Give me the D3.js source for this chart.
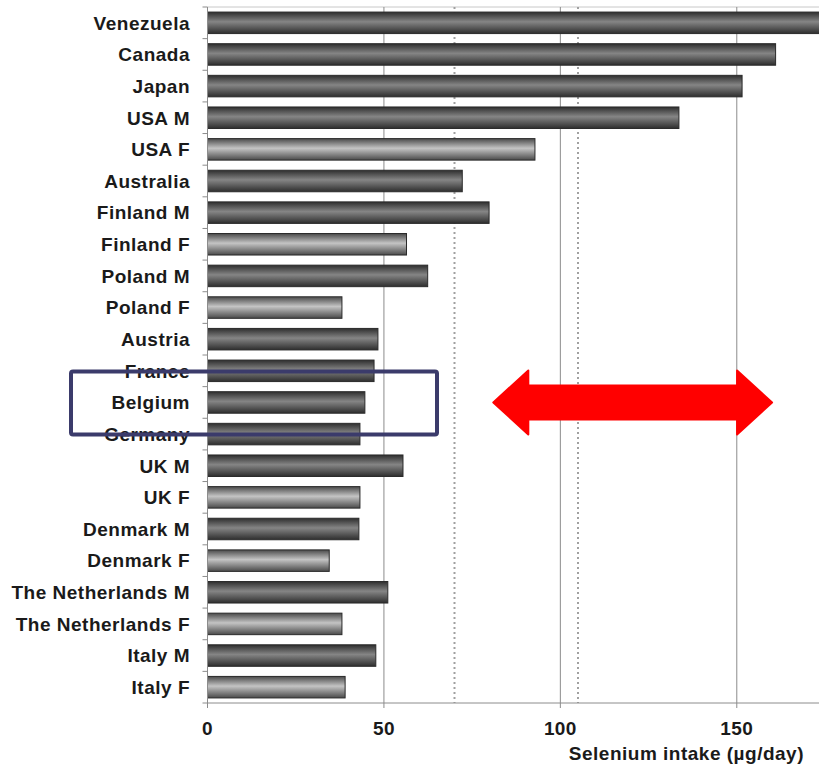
<!DOCTYPE html>
<html>
<head>
<meta charset="utf-8">
<script src="https://cdn.jsdelivr.net/npm/d3@7/dist/d3.min.js"></script>
<style>
  html, body { margin: 0; padding: 0; background: #fff; }
  svg { display: block; font-family: "Liberation Sans", Arial, sans-serif; }
</style>
</head>
<body>
<svg id="chart" width="819" height="766"></svg>
<script>
// Daily selenium intake by country (µg/day); M = men, F = women
const countries = ["Venezuela", "Canada", "Japan", "USA M", "USA F", "Australia",
  "Finland M", "Finland F", "Poland M", "Poland F", "Austria", "France", "Belgium",
  "Germany", "UK M", "UK F", "Denmark M", "Denmark F", "The Netherlands M",
  "The Netherlands F", "Italy M", "Italy F"];
const intake = [200, 161, 151.5, 133.6, 92.8, 72.2, 79.8, 56.4, 62.4, 38.1, 48.3,
  47.2, 44.6, 43.2, 55.4, 43.2, 42.9, 34.5, 51.1, 38.1, 47.7, 39];
const female = [false, false, false, false, true, false, false, true, false, true,
  false, false, false, false, false, true, false, true, false, true, false, true];
const xTicks = [0, 50, 100, 150];
const refLines = [70, 105];           // dotted reference intake levels
const arrowRange = [81, 160];         // highlighted intake range
const highlighted = "Belgium";
const axisTitle = "Selenium intake (µg/day)";

const rows = countries.map((c, i) => ({ name: c, value: intake[i], female: female[i] }));

const svg = d3.select("#chart");
const W = 819;
const plotLeft = 207.5, plotTop = 7, plotBottom = 703;

const x = d3.scaleLinear().domain([0, 173.3]).range([plotLeft, W]);
const y = d3.scaleBand().domain(countries).range([plotTop, plotBottom])
  .paddingInner(0.32).paddingOuter(0.16);

// Cylinder-style shading for the bars
const defs = svg.append("defs");
function grad(id, edge, mid) {
  const g = defs.append("linearGradient").attr("id", id)
    .attr("x1", 0).attr("y1", 0).attr("x2", 0).attr("y2", 1);
  g.append("stop").attr("offset", "0%").attr("stop-color", edge);
  g.append("stop").attr("offset", "45%").attr("stop-color", mid);
  g.append("stop").attr("offset", "100%").attr("stop-color", edge);
}
grad("gDark", "#2e2e2e", "#858585");
grad("gLight", "#4a4a4a", "#c4c4c4");

defs.append("clipPath").attr("id", "plotClip")
  .append("rect").attr("x", plotLeft).attr("y", 0).attr("width", W - plotLeft).attr("height", plotBottom + 1);

// Top border
svg.append("line").attr("x1", plotLeft).attr("x2", W).attr("y1", plotTop).attr("y2", plotTop)
  .attr("stroke", "#c8c8c8").attr("stroke-width", 1);

// Vertical gridlines
svg.append("g").selectAll("line").data(xTicks.slice(1)).join("line")
  .attr("x1", d => x(d)).attr("x2", d => x(d)).attr("y1", plotTop).attr("y2", plotBottom)
  .attr("stroke", "#8c8c8c").attr("stroke-width", 1);

svg.append("g").selectAll("line").data(refLines).join("line")
  .attr("x1", d => x(d)).attr("x2", d => x(d)).attr("y1", plotTop).attr("y2", plotBottom)
  .attr("stroke", "#a0a0a0").attr("stroke-width", 2).attr("stroke-dasharray", "2,3");

// Bars
svg.append("g").attr("clip-path", "url(#plotClip)")
  .selectAll("rect").data(rows).join("rect")
  .attr("x", x(0)).attr("y", d => y(d.name))
  .attr("width", d => x(d.value) - x(0)).attr("height", y.bandwidth())
  .attr("fill", d => d.female ? "url(#gLight)" : "url(#gDark)")
  .attr("stroke", "#2a2a2a").attr("stroke-width", 1);

// Category axis: ticks sit on the boundaries between rows
svg.append("line").attr("x1", plotLeft).attr("x2", plotLeft).attr("y1", plotTop).attr("y2", plotBottom + 4)
  .attr("stroke", "#8c8c8c");
const bounds = d3.range(countries.length + 1).map(i => plotTop + i * y.step());
svg.append("g").selectAll("line").data(bounds).join("line")
  .attr("x1", plotLeft - 5).attr("x2", plotLeft).attr("y1", d => d).attr("y2", d => d)
  .attr("stroke", "#8c8c8c");

svg.append("g").selectAll("text").data(rows).join("text")
  .attr("x", 190).attr("y", d => y(d.name) + y.bandwidth() / 2)
  .attr("dy", "0.36em").attr("text-anchor", "end")
  .attr("font-size", 19).attr("letter-spacing", 0.5)
  .attr("font-weight", "bold").attr("fill", "#1a1a1a")
  .text(d => d.name);

// Value axis
svg.append("line").attr("x1", plotLeft).attr("x2", W).attr("y1", plotBottom).attr("y2", plotBottom)
  .attr("stroke", "#8c8c8c");
svg.append("g").selectAll("line").data(xTicks).join("line")
  .attr("x1", d => x(d)).attr("x2", d => x(d)).attr("y1", plotBottom).attr("y2", plotBottom + 5)
  .attr("stroke", "#8c8c8c");
svg.append("g").selectAll("text").data(xTicks).join("text")
  .attr("x", d => x(d)).attr("y", 735).attr("text-anchor", "middle")
  .attr("font-size", 19).attr("letter-spacing", 0.4)
  .attr("font-weight", "bold").attr("fill", "#1a1a1a")
  .text(d => d);
svg.append("text").attr("x", 804).attr("y", 760).attr("text-anchor", "end")
  .attr("font-size", 19).attr("letter-spacing", 0.5)
  .attr("font-weight", "bold").attr("fill", "#1a1a1a")
  .text(axisTitle);

// Highlight box around the Belgium row and its neighbours
const cy = y(highlighted) + y.bandwidth() / 2;
svg.append("rect").attr("x", 71).attr("y", cy - 31).attr("width", 366).attr("height", 63)
  .attr("rx", 2).attr("fill", "none").attr("stroke", "#3b3b6b").attr("stroke-width", 4);

// Double-headed arrow marking the intake range
const ax0 = x(arrowRange[0]), ax1 = x(arrowRange[1]);
const head = 35, halfHead = 32, halfShaft = 17;
const arrow = d3.path();
arrow.moveTo(ax0, cy);
arrow.lineTo(ax0 + head, cy - halfHead);
arrow.lineTo(ax0 + head, cy - halfShaft);
arrow.lineTo(ax1 - head, cy - halfShaft);
arrow.lineTo(ax1 - head, cy - halfHead);
arrow.lineTo(ax1, cy);
arrow.lineTo(ax1 - head, cy + halfHead);
arrow.lineTo(ax1 - head, cy + halfShaft);
arrow.lineTo(ax0 + head, cy + halfShaft);
arrow.lineTo(ax0 + head, cy + halfHead);
arrow.closePath();
svg.append("path").attr("d", arrow.toString()).attr("fill", "#ff0000")
  .attr("stroke", "#ff0000").attr("stroke-width", 2).attr("stroke-linejoin", "round");
</script>
</body>
</html>
